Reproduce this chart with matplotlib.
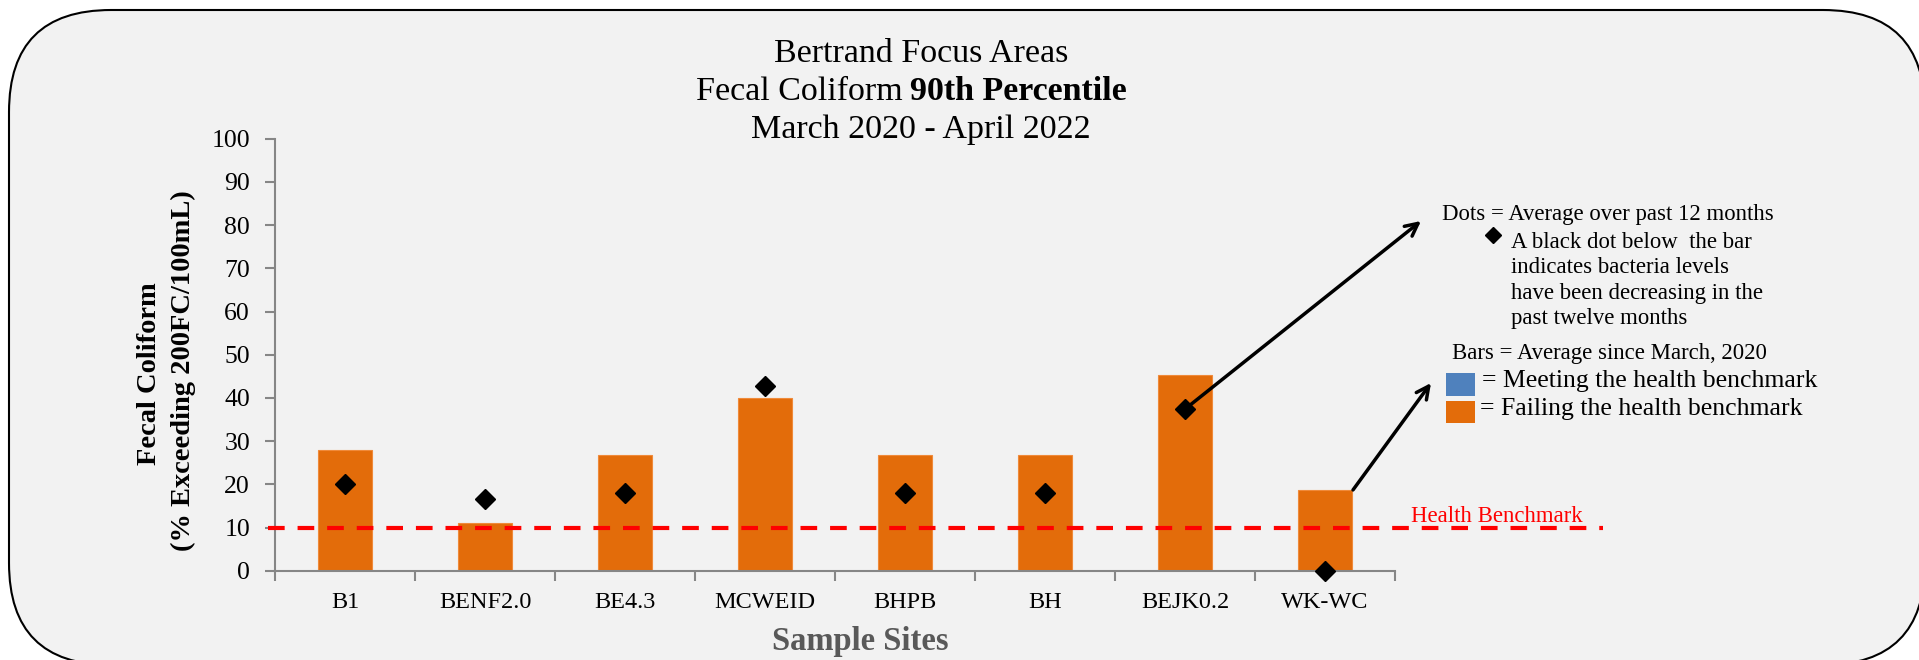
import numpy as np
import matplotlib.pyplot as plt
from matplotlib.patches import FancyBboxPatch, Rectangle

sites = ["B1", "BENF2.0", "BE4.3", "MCWEID", "BHPB", "BH", "BEJK0.2", "WK-WC"]
bar_avg = [28.0, 11.0, 26.8, 40.0, 26.8, 26.8, 45.4, 18.7]     # since March 2020
dot_avg = [20.0, 16.6, 18.1, 42.8, 18.1, 18.1, 37.4, 0.0]      # past 12 months
benchmark = 10
yticks = [0, 10, 20, 30, 40, 50, 60, 70, 80, 90, 100]

orange = "#E36C0A"
blue = "#4F81BD"
axis_grey = "#868686"
serif = ["Liberation Serif", "DejaVu Serif"]
plt.rcParams['font.family'] = serif

fig = plt.figure(figsize=(19.19, 6.6), dpi=100)
fig.patch.set_facecolor("white")

# background layer in pixel coords (y down)
bg = fig.add_axes([0, 0, 1, 1], zorder=0)
bg.set_xlim(0, 1919)
bg.set_ylim(660, 0)
bg.axis("off")
bg.add_patch(FancyBboxPatch((9, 10), 1916, 655, boxstyle="round,pad=0,rounding_size=102",
                            facecolor="#F2F2F2", edgecolor="black", linewidth=1.5))

ax = fig.add_axes([275 / 1919, 1 - 570.7 / 660, 1120 / 1919, 432 / 660], zorder=1)
ax.set_facecolor("none")
x = np.arange(len(sites))
ax.bar(x, bar_avg, width=0.39, color=orange, edgecolor="#F08A3A", linewidth=0.8, zorder=2)
ax.axhline(benchmark, xmin=-0.00625, xmax=1.186, color="#FF0000", lw=3,
           dashes=(4, 3.1), clip_on=False, zorder=3)
ax.plot(x, dot_avg, linestyle="none", marker="D", ms=10, color="black", clip_on=False, zorder=4)

ax.set_xlim(-0.5, len(sites) - 0.5)
ax.set_ylim(0, 100)
ax.set_yticks(yticks)
ax.set_xticks(x)
ax.set_xticklabels(sites)
ax.set_xticks(np.arange(len(sites) + 1) - 0.5, minor=True)
for s in ["top", "right"]:
    ax.spines[s].set_visible(False)
for s in ["left", "bottom"]:
    ax.spines[s].set_color(axis_grey)
    ax.spines[s].set_linewidth(1.5)
ax.tick_params(axis="y", length=7, width=1.5, color=axis_grey, pad=11, labelsize=18.5)
ax.tick_params(axis="x", which="major", length=0, pad=15, labelsize=17.5)
ax.tick_params(axis="x", which="minor", length=7, width=1.5, color=axis_grey)

# titles
tsize = 24.5
bg.text(921, 62, "Bertrand Focus Areas", fontsize=tsize, ha="center", va="baseline")
bg.text(903, 100, "Fecal Coliform", fontsize=tsize, ha="right", va="baseline")
bg.text(910, 100, "90th Percentile", fontsize=tsize, fontweight="bold", ha="left", va="baseline")
bg.text(921, 138, "March 2020 - April 2022", fontsize=tsize, ha="center", va="baseline")

# axis labels
bg.text(149, 374, "Fecal Coliform", fontsize=20.5, fontweight="bold", rotation=90,
        ha="center", va="center")
bg.text(183, 371, "(% Exceeding 200FC/100mL)", fontsize=20.5, fontweight="bold", rotation=90,
        ha="center", va="center")
bg.text(860, 650, "Sample Sites", fontsize=23.5, fontweight="bold", color="#595959",
        ha="center", va="baseline")

bg.text(1411, 522, "Health Benchmark", fontsize=16.4, color="#FF0000", va="baseline")

# key text
ksize = 16.4
bg.text(1442, 220, "Dots = Average over past 12 months", fontsize=ksize, va="baseline")
bg.plot([1493], [235], marker="D", ms=8, color="black")
note = ["A black dot below  the bar", "indicates bacteria levels",
        "have been decreasing in the", "past twelve months"]
for i, line in enumerate(note):
    bg.text(1511, 248 + 25.3 * i, line, fontsize=ksize, va="baseline")
bg.text(1452, 359, "Bars = Average since March, 2020", fontsize=ksize, va="baseline")
bg.add_patch(Rectangle((1446, 373), 29, 23, facecolor=blue, edgecolor="none"))
bg.add_patch(Rectangle((1446, 401), 29, 22, facecolor=orange, edgecolor="none"))
bg.text(1482, 387, "= Meeting the health benchmark", fontsize=18.5, va="baseline")
bg.text(1480, 415, "= Failing the health benchmark", fontsize=18.5, va="baseline")

# arrows
arrow = dict(arrowstyle="->,head_length=0.9,head_width=0.45", lw=2.5, color="black",
             shrinkA=0, shrinkB=0)
ax.annotate("", xy=(1421, 221), xycoords=bg.transData, xytext=(6, dot_avg[6]),
            textcoords="data", arrowprops=arrow, annotation_clip=False, zorder=5)
ax.annotate("", xy=(1431, 383), xycoords=bg.transData, xytext=(7.2, bar_avg[7]),
            textcoords="data", arrowprops=arrow, annotation_clip=False, zorder=5)

fig.savefig("out.png", dpi=100)
